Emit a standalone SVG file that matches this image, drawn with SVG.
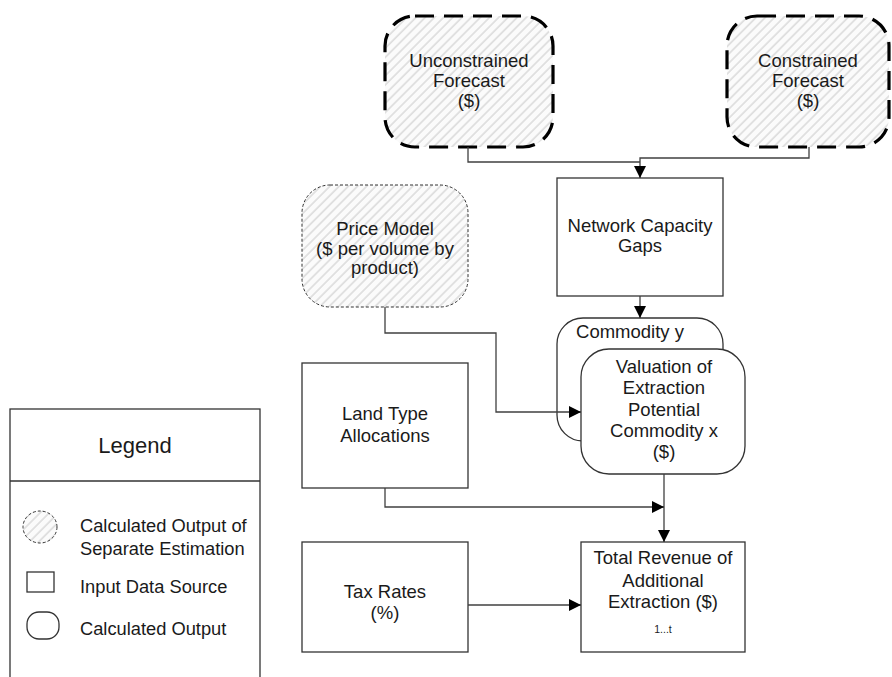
<svg xmlns="http://www.w3.org/2000/svg" width="892" height="677" viewBox="0 0 892 677">
  <style>
    .lbl { font-family: "Liberation Sans", Arial, sans-serif; font-size: 18.5px; fill: #1a1a1a; text-anchor: middle; }
    .leg { font-family: "Liberation Sans", Arial, sans-serif; font-size: 18.3px; fill: #1a1a1a; }
    .box { fill: #ffffff; stroke: #333333; stroke-width: 1.3; }
    .est-bold { fill: url(#hatch); stroke: #000000; stroke-width: 3.2; stroke-dasharray: 19 10; }
    .est-thin { fill: url(#hatch); stroke: #333333; stroke-width: 1; stroke-dasharray: 3 2; }
    .conn { fill: none; stroke: #404040; stroke-width: 1.3; }
  </style>
  <defs>
    <pattern id="hatch" patternUnits="userSpaceOnUse" width="6.5" height="6.5" patternTransform="rotate(45)">
      <rect width="6.5" height="6.5" fill="#fbfbfb"/>
      <line x1="1" y1="0" x2="1" y2="6.5" stroke="#dcdcdc" stroke-width="1.6"/>
    </pattern>
    <marker id="arrow" markerUnits="userSpaceOnUse" markerWidth="12" markerHeight="12" refX="12" refY="6" orient="auto">
      <path d="M0,0 L12,6 L0,12 z" fill="#000000"/>
    </marker>
  </defs>

  <g id="unconstrained-forecast">
    <rect class="est-bold" x="385" y="16" width="168" height="131" rx="30"/>
    <text class="lbl" x="469" y="67">Unconstrained</text>
    <text class="lbl" x="469" y="87">Forecast</text>
    <text class="lbl" x="469" y="107">($)</text>
  </g>

  <g id="constrained-forecast">
    <rect class="est-bold" x="727" y="16" width="162" height="131" rx="30"/>
    <text class="lbl" x="808" y="67">Constrained</text>
    <text class="lbl" x="808" y="87">Forecast</text>
    <text class="lbl" x="808" y="107">($)</text>
  </g>

  <g id="price-model">
    <rect class="est-thin" x="302" y="185" width="166" height="122" rx="28"/>
    <text class="lbl" x="385" y="235">Price Model</text>
    <text class="lbl" x="385" y="255">($ per volume by</text>
    <text class="lbl" x="385" y="274">product)</text>
  </g>

  <g id="network-capacity-gaps">
    <rect class="box" x="557" y="178" width="166" height="118"/>
    <text class="lbl" x="640" y="232">Network Capacity</text>
    <text class="lbl" x="640" y="252">Gaps</text>
  </g>

  <g id="commodity-y">
    <rect class="box" x="557" y="318" width="166" height="123" rx="26"/>
    <text class="lbl" x="630" y="338">Commodity y</text>
  </g>

  <g id="valuation-commodity-x">
    <rect class="box" x="581" y="349" width="164" height="125" rx="28"/>
    <text class="lbl" x="664" y="373">Valuation of</text>
    <text class="lbl" x="664" y="394">Extraction</text>
    <text class="lbl" x="664" y="416">Potential</text>
    <text class="lbl" x="664" y="437">Commodity x</text>
    <text class="lbl" x="664" y="458">($)</text>
  </g>

  <g id="land-type-allocations">
    <rect class="box" x="302" y="363" width="166" height="125"/>
    <text class="lbl" x="385" y="420">Land Type</text>
    <text class="lbl" x="385" y="442">Allocations</text>
  </g>

  <g id="tax-rates">
    <rect class="box" x="302" y="542" width="166" height="110"/>
    <text class="lbl" x="385" y="598">Tax Rates</text>
    <text class="lbl" x="385" y="619">(%)</text>
  </g>

  <g id="total-revenue">
    <rect class="box" x="581" y="542" width="164" height="110"/>
    <text class="lbl" x="663" y="564">Total Revenue of</text>
    <text class="lbl" x="663" y="587">Additional</text>
    <text class="lbl" x="663" y="608">Extraction ($)</text>
    <text class="lbl" x="663" y="633" style="font-size:10.5px">1...t</text>
  </g>

  <g id="legend">
    <rect class="box" x="10" y="409" width="250" height="290"/>
    <line x1="10" y1="481" x2="260" y2="481" stroke="#333333" stroke-width="1.3"/>
    <text class="leg" x="135" y="453" text-anchor="middle" style="font-size:22px">Legend</text>
    <ellipse class="est-thin" cx="40" cy="527" rx="17" ry="16"/>
    <text class="leg" x="80" y="532">Calculated Output of</text>
    <text class="leg" x="80" y="555">Separate Estimation</text>
    <rect class="box" x="27" y="572" width="27" height="20"/>
    <text class="leg" x="80" y="593">Input Data Source</text>
    <rect class="box" x="27" y="612" width="32" height="27" rx="12"/>
    <text class="leg" x="80" y="635">Calculated Output</text>
  </g>

  <!-- connectors drawn on top so the price line shows across the back card -->
  <g id="connectors">
    <path class="conn" d="M468,147 V162 H640"/>
    <path class="conn" d="M809,147 V158 H640 V178" marker-end="url(#arrow)"/>
    <path class="conn" d="M640,296 V318" marker-end="url(#arrow)"/>
    <path class="conn" d="M385,307 V333 H496 V412 H581" marker-end="url(#arrow)"/>
    <path class="conn" d="M664,474 V542" marker-end="url(#arrow)"/>
    <path class="conn" d="M385,488 V507 H664" marker-end="url(#arrow)"/>
    <path class="conn" d="M468,605 H581" marker-end="url(#arrow)"/>
  </g>
</svg>
